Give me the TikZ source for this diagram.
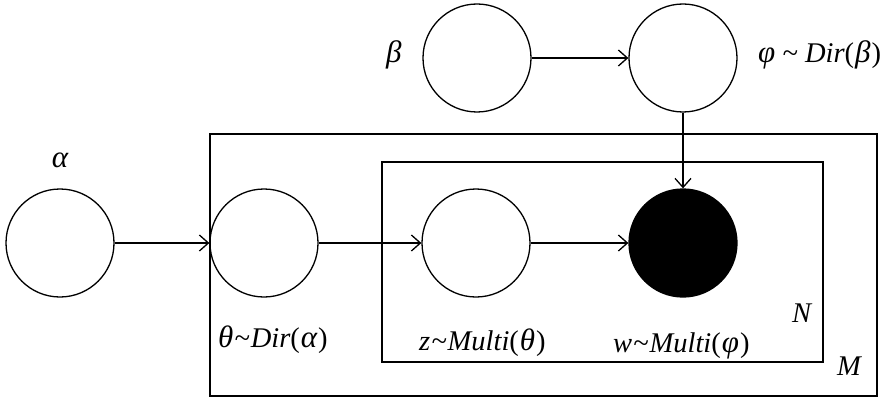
\documentclass[tikz,border=0pt]{standalone}
\usepackage{fontspec}
\setmainfont{Liberation Serif}
\usetikzlibrary{arrows.meta}
\usetikzlibrary{positioning}
\newcommand{\lpar}{{\upshape(}\kern1pt}
\newcommand{\rpar}{\kern1pt{\upshape)}}
\newcommand{\gk}[1]{{\fontsize{31}{31}\selectfont #1}}
\newcommand{\tl}{\kern1pt\textasciitilde\kern1pt}

\begin{document}
\begin{tikzpicture}[x=1pt,y=-1pt,
  var/.style={draw, circle, line width=1.3pt, minimum size=108pt, inner sep=0pt},
  obs/.style={var, fill=black},
  lbl/.style={font=\fontsize{28.5}{29}\selectfont\itshape, inner sep=0pt},
  edge/.style={line width=1.3pt, -{Straight Barb[length=9pt,width=16pt,line width=1.3pt]}},
  plate/.style={draw, line width=1.3pt}]
\useasboundingbox (0,0) rectangle (891,401);
%plates
\draw[plate] (210,134) rectangle (877,396);%M
\draw[plate] (382,162) rectangle (823,362);%N
%variables
\node[var] (alpha) at (60,243) {};
\node[var] (theta) at (264,243) {};
\node[var] (z) at (476,243) {};
\node[obs] (w) at (683,243) {};
\node[var] (beta) at (477,58) {};
\node[var] (phi) at (683,58) {};
%labels
\node[lbl, anchor=base] (alphalbl) at (60,167) {\gk{α}};
\node[lbl, anchor=base west] (betalbl) at (386,63) {\gk{β}};
\node[lbl, anchor=base west] (philbl) at (758,63) {\gk{φ} \textasciitilde{} Dir\lpar\gk{β}\rpar};
\node[lbl, anchor=base west] (thetalbl) at (218,347) {\gk{θ}\tl Dir\lpar\gk{α}\rpar};
\node[lbl, anchor=base west] (zlbl) at (419,350) {z\tl Multi\lpar\gk{θ}\rpar};
\node[lbl, anchor=base west] (wlbl) at (613,352) {w\tl Multi\lpar\gk{φ}\rpar};
\node[lbl, anchor=base west] (Nlbl) at (792,322) {N};
\node[lbl, anchor=base west] (Mlbl) at (837,375) {M};
%edges
\draw[edge] (alpha) -- (theta);
\draw[edge] (theta) -- (z);
\draw[edge] (z) -- (w);
\draw[edge] (beta) -- (phi);
\draw[edge] (phi) -- (w);
\end{tikzpicture}
\end{document}
